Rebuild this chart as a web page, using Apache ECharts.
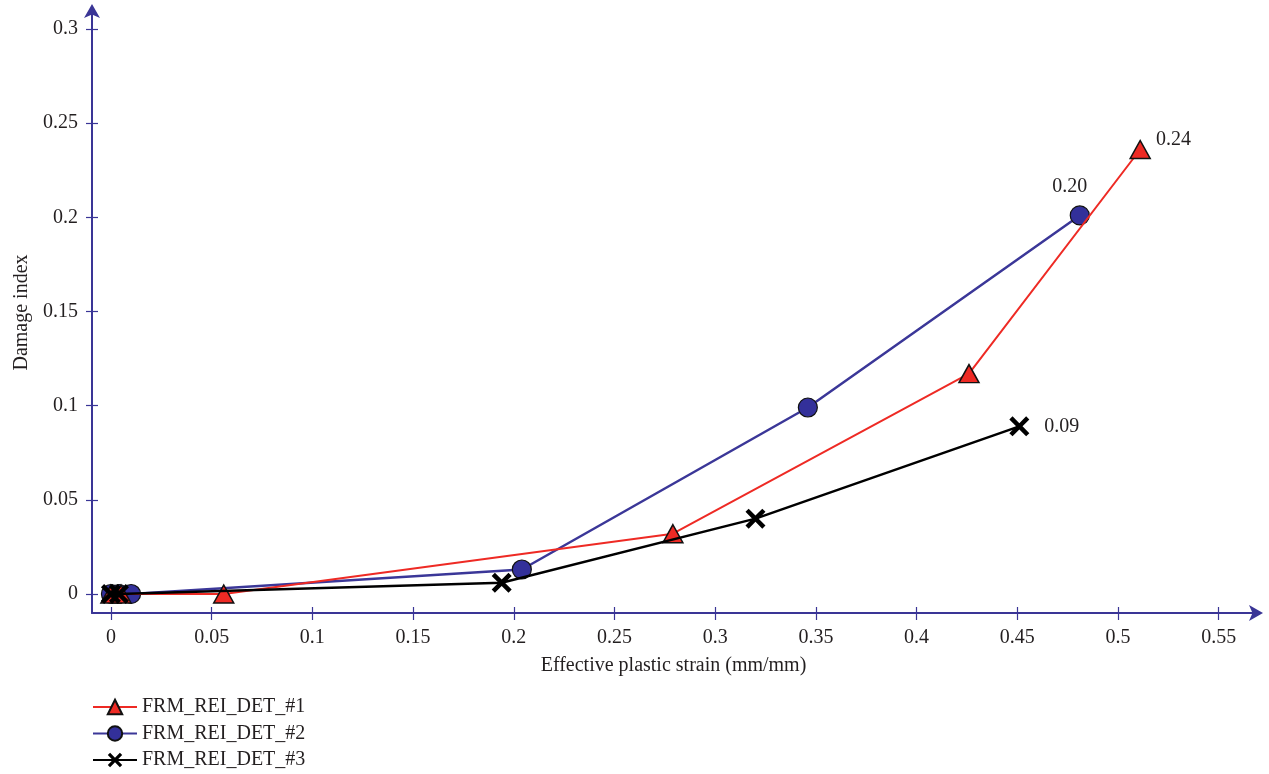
<!DOCTYPE html>
<html>
<head>
<meta charset="utf-8">
<script src="https://cdn.jsdelivr.net/npm/echarts@6/dist/echarts.min.js"></script>
<style>
  html, body { margin: 0; padding: 0; background: #fff; }
  #chart { width: 1269px; height: 774px; }
</style>
</head>
<body>
<div id="chart"></div>
<script>
// Damage index versus effective plastic strain for three FRM specimens
const seriesNames = ['FRM_REI_DET_#1', 'FRM_REI_DET_#2', 'FRM_REI_DET_#3'];

const strain1 = [0, 0.005, 0.056, 0.279, 0.426, 0.511];
const damage1 = [0, 0, 0.000, 0.032, 0.117, 0.236];

const strain2 = [0, 0.004, 0.010, 0.204, 0.346, 0.481];
const damage2 = [0, 0, 0, 0.013, 0.099, 0.201];

const strain3 = [0, 0.004, 0.194, 0.320, 0.451];
const damage3 = [0, 0, 0.006, 0.040, 0.089];

const xTicks = [0, 0.05, 0.1, 0.15, 0.2, 0.25, 0.3, 0.35, 0.4, 0.45, 0.5, 0.55];
const yTicks = [0, 0.05, 0.1, 0.15, 0.2, 0.25, 0.3];

const axisColor = '#3a3596';
const textColor = '#231f20';
const serif = '"Liberation Serif", "DejaVu Serif", serif';
const fontSize = 20;

const crossSymbol = 'path://M0,1.6L1.6,0L5,3.4L8.4,0L10,1.6L6.6,5L10,8.4L8.4,10L5,6.6L1.6,10L0,8.4L3.4,5Z';

function pairs(xs, ys) { return xs.map((x, i) => [x, ys[i]]); }

// mark the last point of each series with its value
function lastLabel(xs, ys, position, offset) {
  const d = pairs(xs, ys);
  const n = d.length - 1;
  return d.map((p, i) => i === n ? {
    value: p,
    label: { show: true, position: position, offset: offset, formatter: (o) => o.value[1].toFixed(2),
             fontFamily: serif, fontSize: fontSize, color: textColor }
  } : p);
}

const chart = echarts.init(document.getElementById('chart'));

const xRange = { min: -0.0094, max: 0.568 };
const yRange = { min: -0.0101, max: 0.309 };

chart.setOption({
  animation: false,
  backgroundColor: '#fff',
  grid: { left: 92, right: 14, top: 12, bottom: 161, outerBoundsMode: 'none', containLabel: false },
  xAxis: [{
    type: 'value', ...xRange,
    name: 'Effective plastic strain (mm/mm)',
    nameLocation: 'middle', nameGap: 43,
    nameTextStyle: { fontFamily: serif, fontSize: fontSize, color: textColor },
    axisLine: { show: true, onZero: false, symbol: ['none', 'arrow'], symbolSize: [12, 14], symbolOffset: [0, 8],
                lineStyle: { color: axisColor, width: 2 } },
    axisTick: { show: true, customValues: xTicks, length: 7, lineStyle: { color: axisColor, width: 1.2 } },
    axisLabel: { customValues: xTicks, margin: 15, fontFamily: serif, fontSize: fontSize, color: textColor },
    splitLine: { show: false }
  }, {
    type: 'value', ...xRange, position: 'bottom',
    axisLine: { show: false, onZero: false },
    axisTick: { show: true, inside: true, customValues: xTicks, length: 6, lineStyle: { color: axisColor, width: 1.2 } },
    axisLabel: { show: false },
    splitLine: { show: false }
  }],
  yAxis: [{
    type: 'value', ...yRange,
    name: 'Damage index',
    nameLocation: 'middle', nameGap: 60,
    nameTextStyle: { fontFamily: serif, fontSize: fontSize, color: textColor },
    axisLine: { show: true, onZero: false, symbol: ['none', 'arrow'], symbolSize: [12, 14], symbolOffset: [0, 8],
                lineStyle: { color: axisColor, width: 2 } },
    axisTick: { show: true, customValues: yTicks, length: 6, lineStyle: { color: axisColor, width: 1.2 } },
    axisLabel: { customValues: yTicks, margin: 14, fontFamily: serif, fontSize: fontSize, color: textColor },
    splitLine: { show: false }
  }, {
    type: 'value', ...yRange, position: 'left',
    axisLine: { show: false, onZero: false },
    axisTick: { show: true, inside: true, customValues: yTicks, length: 6, lineStyle: { color: axisColor, width: 1.2 } },
    axisLabel: { show: false },
    splitLine: { show: false }
  }],
  legend: {
    orient: 'vertical', left: 92, top: 697, itemGap: 6.5, padding: 0,
    itemWidth: 44, itemHeight: 18,
    textStyle: { fontFamily: serif, fontSize: fontSize, color: textColor },
    data: seriesNames
  },
  series: [{
    name: seriesNames[0], type: 'line', xAxisIndex: 0, yAxisIndex: 0,
    data: lastLabel(strain1, damage1, 'right', [0, -10]),
    symbol: 'triangle', symbolSize: [20, 18],
    lineStyle: { color: '#ee2a24', width: 2 },
    itemStyle: { color: '#ee2a24', borderColor: '#111', borderWidth: 1.5 },
    z: 3
  }, {
    name: seriesNames[1], type: 'line', xAxisIndex: 0, yAxisIndex: 0,
    data: lastLabel(strain2, damage2, 'top', [-10, -4]),
    symbol: 'circle', symbolSize: 19,
    lineStyle: { color: '#3b3798', width: 2.5 },
    itemStyle: { color: '#33309a', borderColor: '#111', borderWidth: 1.2 },
    z: 2
  }, {
    name: seriesNames[2], type: 'line', xAxisIndex: 0, yAxisIndex: 0,
    data: lastLabel(strain3, damage3, 'right', [10, 0]),
    symbol: crossSymbol, symbolSize: 20,
    lineStyle: { color: '#000', width: 2.5 },
    itemStyle: { color: '#000', borderWidth: 0 },
    z: 4
  }]
});
</script>
</body>
</html>
